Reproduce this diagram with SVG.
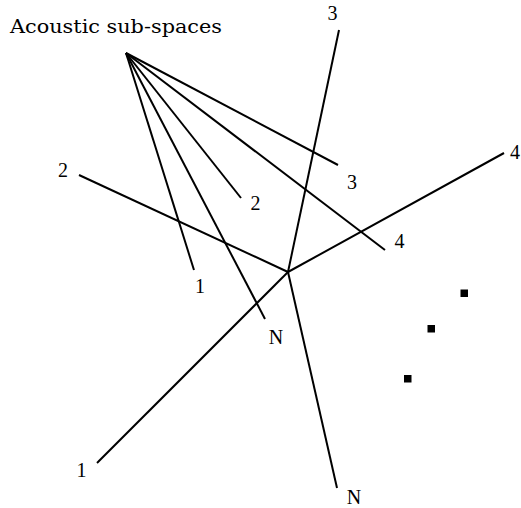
<svg xmlns="http://www.w3.org/2000/svg" width="521" height="508" viewBox="0 0 521 508">
<style>
.ln{stroke:#000;stroke-width:2;fill:none;stroke-linecap:butt}
.lb{font-family:"Liberation Serif","DejaVu Serif",serif;font-size:20px;fill:#000;text-anchor:middle}
.tt{font-family:"DejaVu Serif","Liberation Serif",serif;font-size:18.5px;fill:#000}
.dot{fill:#000}
</style>
<rect width="521" height="508" fill="#fff"/>
<g id="title"><text class="tt" x="10" y="33" textLength="212" lengthAdjust="spacingAndGlyphs">Acoustic sub-spaces</text></g>
<g id="connectors">
<line class="ln" x1="126" y1="53" x2="194" y2="270"/>
<line class="ln" x1="126" y1="53" x2="265" y2="319"/>
<line class="ln" x1="126" y1="53" x2="241" y2="198"/>
<line class="ln" x1="126" y1="53" x2="385" y2="250"/>
<line class="ln" x1="126" y1="53" x2="338" y2="165"/>
<line class="ln" x1="288" y1="272" x2="339" y2="30"/>
<line class="ln" x1="288" y1="272" x2="504" y2="153"/>
<line class="ln" x1="288" y1="272" x2="79" y2="175"/>
<line class="ln" x1="288" y1="272" x2="97" y2="463"/>
<line class="ln" x1="288" y1="272" x2="337" y2="488"/>
</g>
<g id="fan-labels">
<text class="lb" x="200" y="293">1</text>
<text class="lb" x="276" y="344">N</text>
<text class="lb" x="255.5" y="210">2</text>
<text class="lb" x="399.5" y="248">4</text>
<text class="lb" x="352" y="189">3</text>
</g>
<g id="axis-labels">
<text class="lb" x="332.5" y="20">3</text>
<text class="lb" x="515" y="159">4</text>
<text class="lb" x="63" y="177">2</text>
<text class="lb" x="81.5" y="477">1</text>
<text class="lb" x="354" y="504">N</text>
</g>
<g id="ellipsis">
<rect class="dot" x="460.5" y="289.5" width="7.5" height="7.5"/>
<rect class="dot" x="427.5" y="325" width="7.5" height="7.5"/>
<rect class="dot" x="404" y="375" width="7.5" height="7.5"/>
</g>
</svg>
